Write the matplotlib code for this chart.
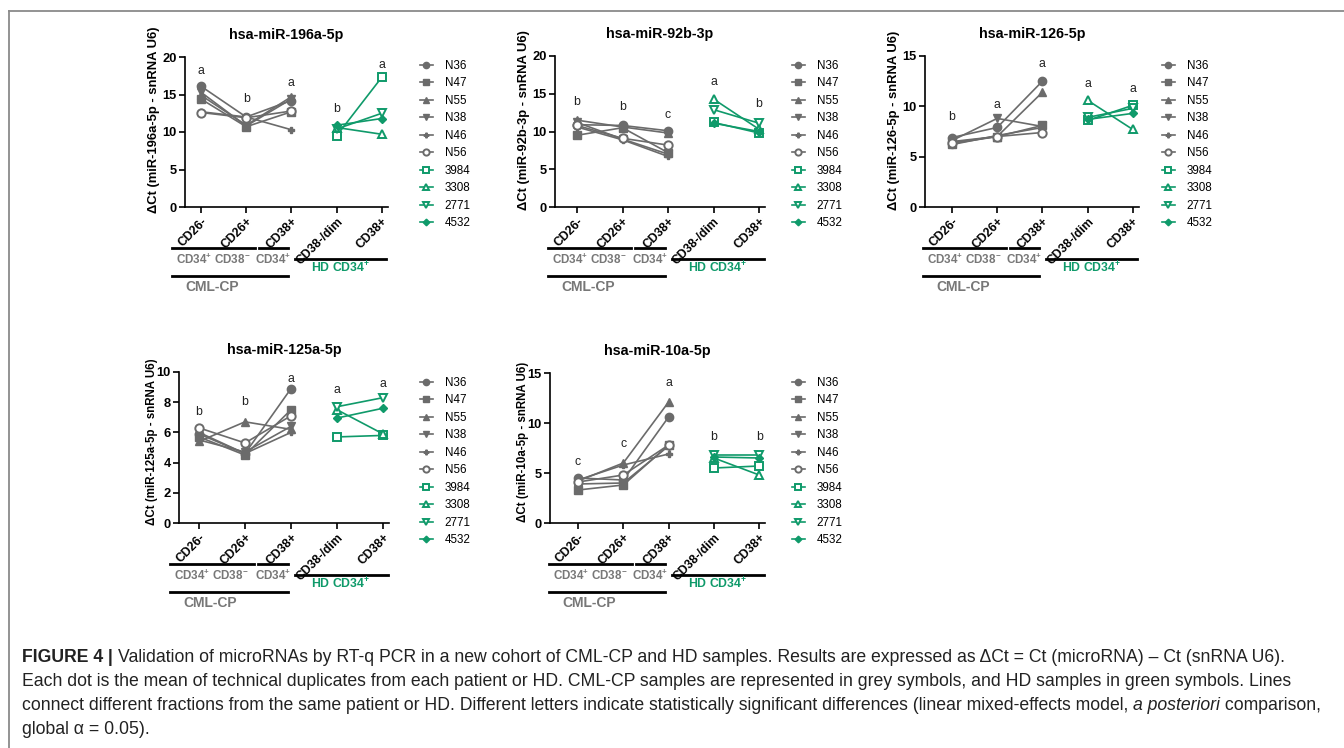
import numpy as np
import matplotlib.pyplot as plt
from matplotlib.lines import Line2D

plt.rcParams['font.family'] = ['Liberation Sans', 'DejaVu Sans']
plt.rcParams['mathtext.fontset'] = 'custom'
plt.rcParams['mathtext.rm'] = 'Liberation Sans'
plt.rcParams['mathtext.bf'] = 'Liberation Sans:bold'
plt.rcParams['mathtext.it'] = 'Liberation Sans:italic'

# ---------------- data ----------------
fractions = ['CD26-', 'CD26+', 'CD38+', 'CD38-/dim', 'CD38+']
cml_ids = ['N36', 'N47', 'N55', 'N38', 'N46', 'N56']
hd_ids = ['3984', '3308', '2771', '4532']

# rows = patients (N36, N47, N55, N38, N46, N56), cols = CD26-, CD26+, CD38+
mir196a_cml = [[16.1, 12.0, 14.2], [14.4, 10.7, 12.7], [14.9, 10.9, 14.7],
               [15.3, 10.8, 14.4], [12.7, 12.0, 10.3], [12.6, 11.9, 12.8]]
# rows = HD (3984, 3308, 2771, 4532), cols = CD38-/dim, CD38+
mir196a_hd = [[9.5, 17.3], [10.6, 9.7], [10.4, 12.5], [10.9, 11.8]]
mir196a_letters = ['a', 'b', 'a', 'b', 'a']
mir196a_letter_y = [18.1, 14.4, 16.5, 13.0, 19.0]

mir92b_cml = [[10.9, 10.8, 10.1], [9.5, 10.5, 7.2], [11.5, 10.6, 9.8],
              [11.2, 9.0, 7.0], [10.6, 8.9, 6.7], [10.8, 9.1, 8.2]]
mir92b_hd = [[11.2, 9.8], [14.3, 10.3], [12.9, 11.1], [11.1, 10.0]]
mir92b_letters = ['b', 'b', 'c', 'a', 'b']
mir92b_letter_y = [13.9, 13.2, 12.2, 16.6, 13.7]

mir126_cml = [[6.9, 7.9, 12.5], [6.3, 7.0, 8.1], [6.5, 7.0, 11.4],
              [6.6, 8.8, 8.0], [6.2, 7.1, 7.9], [6.4, 7.0, 7.4]]
mir126_hd = [[8.6, 10.1], [10.6, 7.7], [8.9, 9.8], [8.7, 9.3]]
mir126_letters = ['b', 'a', 'a', 'a', 'a']
mir126_letter_y = [8.9, 10.1, 14.2, 12.2, 11.7]

mir125a_cml = [[5.9, 4.6, 8.9], [5.7, 4.5, 7.5], [5.4, 6.7, 6.2],
               [5.5, 4.7, 6.4], [6.0, 4.6, 6.0], [6.3, 5.3, 7.1]]
mir125a_hd = [[5.7, 5.8], [7.5, 5.9], [7.7, 8.3], [6.95, 7.6]]
mir125a_letters = ['b', 'b', 'a', 'a', 'a']
mir125a_letter_y = [7.35, 8.0, 9.55, 8.8, 9.2]

mir10a_cml = [[4.5, 4.3, 10.6], [3.3, 3.8, 7.8], [4.2, 6.0, 12.1],
              [3.9, 4.0, 7.7], [4.3, 5.8, 6.9], [4.1, 4.8, 7.8]]
mir10a_hd = [[5.5, 5.7], [6.5, 4.8], [6.8, 6.8], [6.6, 6.5]]
mir10a_letters = ['c', 'c', 'a', 'b', 'b']
mir10a_letter_y = [6.1, 7.9, 14.0, 8.6, 8.6]

titles = ['hsa-miR-196a-5p', 'hsa-miR-92b-3p', 'hsa-miR-126-5p',
          'hsa-miR-125a-5p', 'hsa-miR-10a-5p']
ylabels = [u'\u0394Ct (miR-196a-5p - snRNA U6)', u'\u0394Ct (miR-92b-3p - snRNA U6)',
           u'\u0394Ct (miR-126-5p - snRNA U6)', u'\u0394Ct (miR-125a-5p - snRNA U6)',
           u'\u0394Ct (miR-10a-5p - snRNA U6)']
ymaxs = [20, 20, 15, 10, 15]
ysteps = [5, 5, 5, 2, 5]

cml_all = [mir196a_cml, mir92b_cml, mir126_cml, mir125a_cml, mir10a_cml]
hd_all = [mir196a_hd, mir92b_hd, mir126_hd, mir125a_hd, mir10a_hd]
letters_all = [mir196a_letters, mir92b_letters, mir126_letters, mir125a_letters, mir10a_letters]
letter_y_all = [mir196a_letter_y, mir92b_letter_y, mir126_letter_y, mir125a_letter_y, mir10a_letter_y]

# ---------------- style ----------------
grey = '#6b6b6b'
green = '#0f9a6a'
cml_style = [dict(marker='o', mfc=grey, ms=6), dict(marker='s', mfc=grey, ms=6),
             dict(marker='^', mfc=grey, ms=6), dict(marker='v', mfc=grey, ms=6),
             dict(marker='P', mfc=grey, ms=4.5), dict(marker='o', mfc='white', ms=6, mew=1.4)]
hd_style = [dict(marker='s', mfc='white', ms=6, mew=1.4), dict(marker='^', mfc='white', ms=6, mew=1.4),
            dict(marker='v', mfc='white', ms=6, mew=1.4), dict(marker='D', mfc=green, ms=4.5)]

W, H = 1344, 748
fig = plt.figure(figsize=(W / 100, H / 100), dpi=100)

# axis x, top, height, first tick x, px per category  (pixels)
layout = [(185, 57, 150, 201, 45.2), (555, 56, 151, 577, 45.5), (925, 56, 151, 952, 45.2),
          (179, 372, 151, 199, 46.0), (550, 373, 150, 578, 45.3)]
legend_x = [420, 792, 1162, 420, 792]
ylab_dx = [31, 31, 31, 27, 27]
ylab_cy = [120, 120, 120, 442, 442]
ylab_fs = [9.4, 9.4, 9.4, 8.3, 8.3]

for i in range(5):
    ax_x, top, h, first, sp = layout[i]
    xl = -(first - ax_x) / sp
    xr = 4.13
    w = (xr - xl) * sp
    ax = fig.add_axes([ax_x / W, 1 - (top + h) / H, w / W, h / H])
    ax.set_xlim(xl, xr)
    ax.set_ylim(0, ymaxs[i])

    for k, row in enumerate(cml_all[i]):
        ax.plot([0, 1, 2], row, color=grey, lw=1.2, mec=grey, label=cml_ids[k],
                clip_on=False, zorder=3, **cml_style[k])
    for k, row in enumerate(hd_all[i]):
        ax.plot([3, 4], row, color=green, lw=1.2, mec=green, label=hd_ids[k],
                clip_on=False, zorder=3, **hd_style[k])

    for j in range(5):
        ax.text(j, letter_y_all[i][j], letters_all[i][j], ha='center', va='center',
                fontsize=8.8, color='#222222')

    for s in ['top', 'right']:
        ax.spines[s].set_visible(False)
    for s in ['left', 'bottom']:
        ax.spines[s].set_linewidth(1.2)
    ax.set_yticks(np.arange(0, ymaxs[i] + 0.1, ysteps[i]))
    ax.set_yticklabels([str(int(v)) for v in ax.get_yticks()], fontweight='bold', fontsize=9.3)
    ax.set_xticks(range(5))
    ax.set_xticklabels(fractions, rotation=45, ha='right', rotation_mode='anchor',
                       fontweight='bold', fontsize=8.8)
    ax.tick_params(length=4, width=1.2, pad=2)

    ax.text(0.5, 1 + 22 / h, titles[i], transform=ax.transAxes, ha='center', va='center',
            fontweight='bold', fontsize=10.3)
    ax.text(-ylab_dx[i] / w, (top + h - ylab_cy[i]) / h, ylabels[i], transform=ax.transAxes,
            rotation=90, ha='center', va='center', fontweight='bold', fontsize=ylab_fs[i])

    # group brackets under the axis
    tr = ax.get_xaxis_transform()
    def hline(x0, x1, dy):
        ax.plot([x0, x1], [-dy / h, -dy / h], transform=tr, clip_on=False, color='k', lw=2)
    def lab(x, dy, s, c, fs):
        ax.text(x, -dy / h, s, transform=tr, ha='center', va='center', color=c,
                fontweight='bold', fontsize=fs)
    hline(-0.64, 1.19, 41)
    hline(1.28, 1.93, 41)
    hline(2.08, 4.10, 52)
    hline(-0.64, 1.93, 69)
    lab(0.27, 53, r'CD34$^{\mathbf{+}}$ CD38$^{\mathbf{-}}$', '#777777', 8.4)
    lab(1.6, 53, r'CD34$^{\mathbf{+}}$', '#777777', 8.4)
    lab(3.08, 61, r'HD CD34$^{\mathbf{+}}$', green, 8.8)
    lab(0.25, 80, 'CML-CP', '#777777', 10)

    leg_top = 60 if i < 3 else 377
    ax.legend(loc='upper left', bbox_to_anchor=(legend_x[i] / W, 1 - leg_top / H),
              bbox_transform=fig.transFigure, frameon=False, fontsize=8.4, handlelength=1.1,
              handletextpad=1.0, labelspacing=0.47, borderpad=0, borderaxespad=0,
              markerscale=0.75)

# frame lines of the figure panel
fig.add_artist(Line2D([9 / W, 1], [1 - 10.5 / H, 1 - 10.5 / H], transform=fig.transFigure,
                      color='#8a8a8a', lw=1.3))
fig.add_artist(Line2D([9 / W, 9 / W], [0, 1 - 10.5 / H], transform=fig.transFigure,
                      color='#8a8a8a', lw=1.3))

# caption
cap1 = [('FIGURE 4', dict(fontweight='bold')), (' | ', dict(fontweight='bold')),
        (u'Validation of microRNAs by RT-q PCR in a new cohort of CML-CP and HD samples. '
         u'Results are expressed as \u0394Ct = Ct (microRNA) \u2013 Ct (snRNA U6).', {})]
cap2 = [('Each dot is the mean of technical duplicates from each patient or HD. CML-CP samples '
         'are represented in grey symbols, and HD samples in green symbols. Lines', {})]
cap3 = [('connect different fractions from the same patient or HD. Different letters indicate '
         'statistically significant differences (linear mixed-effects model, ', {}),
        ('a posteriori', dict(style='italic')), (' comparison,', {})]
cap4 = [(u'global \u03b1 = 0.05).', {})]
caption = [cap1, cap2, cap3, cap4]

fig.canvas.draw()
renderer = fig.canvas.get_renderer()

def line_width(pieces, fs):
    tot = 0
    for s, st in pieces:
        t = fig.text(0, 0, s, fontsize=fs, **st)
        tot += t.get_window_extent(renderer).width
        t.remove()
    return tot

widest = max(line_width(p, 10) for p in caption)
cap_fs = 10 * 1305 / widest

for y, pieces in zip([657, 681, 706, 730], caption):
    x = 22
    for s, st in pieces:
        t = fig.text(x / W, 1 - y / H, s, fontsize=cap_fs, va='center', ha='left',
                     color='#222222', **st)
        x += t.get_window_extent(renderer).width

fig.savefig('out.png', dpi=100)
